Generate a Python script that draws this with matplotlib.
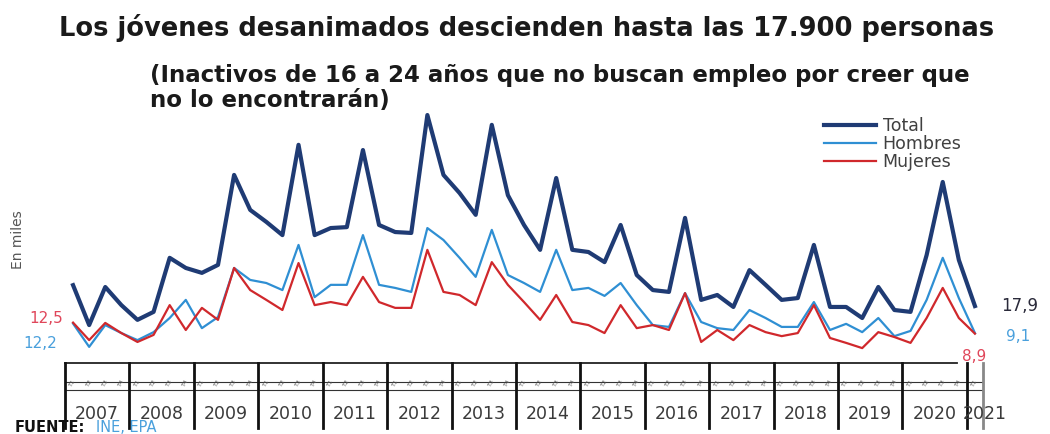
import matplotlib.pyplot as plt
import matplotlib.transforms as mtransforms

# quarterly data, thousands of people, 2007T1 .. 2021T1
years = [str(y) for y in range(2007, 2022)]
quarters = ["T1", "T2", "T3", "T4"]

total = [24.7, 11.7, 24.1, 18.2, 13.4, 16.0, 33.6, 30.3, 28.7, 31.3,
         60.6, 49.2, 45.3, 41.0, 70.4, 41.0, 43.3, 43.6, 68.7, 44.3,
         42.0, 41.7, 80.1, 60.6, 54.7, 47.6, 76.9, 54.0, 44.3, 36.2,
         59.6, 36.2, 35.5, 32.2, 44.3, 28.0, 23.1, 22.5, 46.6, 19.9,
         21.5, 17.6, 29.6, 24.8, 19.9, 20.5, 37.8, 17.6, 17.6, 14.0,
         24.1, 16.6, 16.0, 34.5, 58.3, 32.9, 17.9]
hombres = [12.2, 4.6, 11.7, 9.1, 6.8, 9.4, 14.0, 19.9, 10.7, 14.3,
           30.3, 26.4, 25.4, 23.1, 37.8, 20.8, 24.8, 24.8, 41.0, 24.8,
           23.8, 22.5, 43.3, 39.4, 33.6, 27.4, 42.7, 28.0, 25.4, 22.5,
           36.2, 23.1, 23.8, 21.2, 25.4, 18.2, 11.7, 11.1, 22.1, 12.7,
           10.7, 10.1, 16.6, 14.0, 11.1, 11.1, 19.2, 10.1, 12.1, 9.4,
           14.0, 8.1, 9.8, 19.9, 33.6, 20.5, 9.1]
mujeres = [12.5, 6.8, 12.4, 9.1, 6.2, 8.5, 18.2, 10.1, 17.3, 13.4,
           30.3, 23.1, 19.9, 16.6, 31.9, 18.2, 19.2, 18.2, 27.4, 19.2,
           17.3, 17.3, 36.2, 22.5, 21.5, 18.2, 32.2, 24.8, 19.2, 13.4,
           21.5, 12.7, 11.7, 9.1, 18.2, 10.7, 11.7, 10.1, 22.1, 6.2,
           10.1, 6.8, 11.7, 9.4, 8.1, 9.1, 18.2, 7.5, 5.9, 4.2,
           9.4, 7.8, 5.9, 14.0, 23.8, 14.0, 8.9]

c_total = "#1f3b74"
c_hom = "#2f8fd3"
c_muj = "#d0282c"
c_txt = "#404040"

fig = plt.figure(figsize=(10.5, 4.34), dpi=100)
W, H = 1050, 434
ax = fig.add_axes([65 / W, 1 - 361 / H, 918 / W, 261 / H])

x = list(range(len(total)))
ax.plot(x, total, color=c_total, lw=3.0, solid_joinstyle="round", label="Total")
ax.plot(x, hombres, color=c_hom, lw=1.6, solid_joinstyle="round", label="Hombres")
ax.plot(x, mujeres, color=c_muj, lw=1.6, solid_joinstyle="round", label="Mujeres")

ax.set_xlim(-0.5, len(total) - 0.5)
ax.set_ylim(0, 85)
for s in ax.spines.values():
    s.set_visible(False)
ax.set_xticks([])
ax.set_yticks([])

# category axis drawn by hand (x in data, y in axes fraction)
tr = mtransforms.blended_transform_factory(ax.transData, ax.transAxes)
def yf(py):
    return (361 - py) / 261

ax.plot([-0.5, 54.9], [yf(363), yf(363)], color="#222222", lw=1.3, transform=tr, clip_on=False)
for py in (382, 390):
    ax.plot([-0.5, 56.5], [yf(py), yf(py)], color="#333333", lw=0.8, transform=tr, clip_on=False)
bounds = [4 * k - 0.5 for k in range(len(years))] + [56.5]
for b in bounds:
    col = "#888888" if b == 56.5 else "#111111"
    ax.plot([b, b], [yf(363), yf(428)], color=col, lw=2.0, transform=tr, clip_on=False)
for i in x:
    ax.text(i, yf(383), quarters[i % 4], fontsize=4.5, rotation=60, color="#555555",
            ha="center", va="center", transform=tr, clip_on=False)
for k, yr in enumerate(years):
    cx = 4 * k + 1.5 if k < len(years) - 1 else 56.6
    ax.text(cx, yf(414), yr, fontsize=12.5, color="#3a3a3a", ha="center", va="center",
            transform=tr, clip_on=False)

# end / start labels
ax.text(-0.6, mujeres[0] + 1.5, "12,5", color="#e0465a", fontsize=11, ha="right", va="center")
ax.text(-1.0, hombres[0] - 6.5, "12,2", color="#4aa0dc", fontsize=11, ha="right", va="center")
ax.text(57.6, total[-1], "17,9", color="#2a2a3a", fontsize=12, ha="left", va="center")
ax.text(57.9, hombres[-1] - 1.0, "9,1", color="#4aa0dc", fontsize=11, ha="left", va="center")
ax.text(55.2, 1.5, "8,9", color="#e0465a", fontsize=11, ha="left", va="center")

ax.legend(loc="upper left", bbox_to_anchor=(815 / W, 1 - 108 / H), bbox_transform=fig.transFigure,
          frameon=False, fontsize=12.5, handlelength=3.0, handletextpad=0.4, labelspacing=0.0,
          borderpad=0, labelcolor=c_txt)

fig.text(527 / W, 1 - 28 / H, "Los jóvenes desanimados descienden hasta las 17.900 personas",
         fontsize=18.5, fontweight="bold", color="#1a1a1a", ha="center", va="center")
fig.text(150 / W, 1 - 88 / H, "(Inactivos de 16 a 24 años que no buscan empleo por creer que\nno lo encontrarán)",
         fontsize=16.5, fontweight="bold", color="#1a1a1a", ha="left", va="center", linespacing=1.1)
fig.text(18 / W, 1 - 240 / H, "En miles", fontsize=10, color="#555555", rotation=90,
         ha="center", va="center")
fig.text(15 / W, 1 - 428 / H, "FUENTE:", fontsize=10.5, fontweight="bold", color="#111111",
         ha="left", va="center")
fig.text(96 / W, 1 - 428 / H, "INE, EPA", fontsize=10.5, color="#4aa0dc", ha="left", va="center")

fig.savefig("out.png", dpi=100)
